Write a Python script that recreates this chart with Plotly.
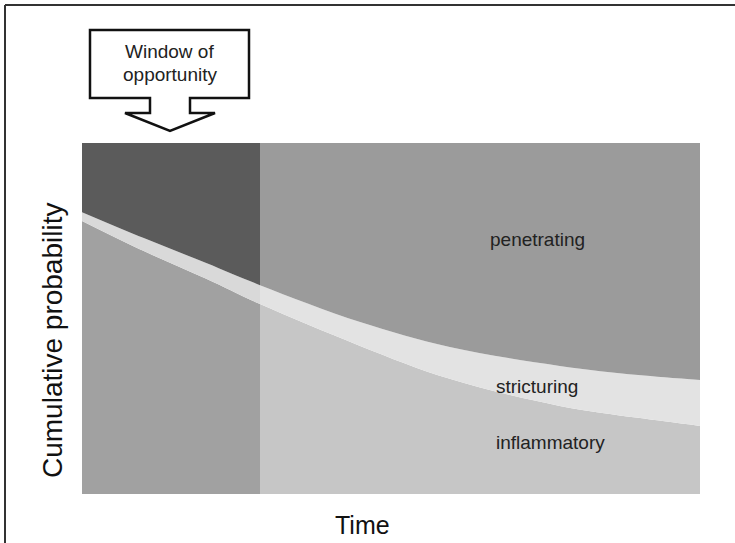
import plotly.graph_objects as go

# ---- data ----
time = [0.0, 0.100, 0.201, 0.288, 0.450, 0.595, 0.773, 0.900, 1.0]
upper_curve = [0.803, 0.729, 0.658, 0.595, 0.490, 0.419, 0.365, 0.339, 0.325]
lower_curve = [0.778, 0.692, 0.613, 0.541, 0.422, 0.328, 0.251, 0.217, 0.194]
top_line = [1.0] * len(time)
window_end = 0.288
region_labels = ["penetrating", "stricturing", "inflammatory"]
region_label_pos = [(0.657, 0.724), (0.666, 0.306), (0.666, 0.148)]

# ---- styling ----
W, H = 735, 543
L, R, T, B = 82, 35, 143, 49
PW, PH = W - L - R, H - T - B
FONT = "Liberation Sans, Arial, sans-serif"


def px(xp):
    return (xp - L) / PW


def py(yp):
    return (H - B - yp) / PH


right_cols = ["#c6c6c6", "#e3e3e3", "#9b9b9b"]
left_cols = ["#a1a1a1", "#d9d9d9", "#5b5b5b"]

fig = go.Figure()


def add_bands(xaxis, cols):
    fig.add_trace(go.Scatter(x=time, y=lower_curve, mode="lines", line=dict(width=0, shape="spline"),
                             fill="tozeroy", fillcolor=cols[0], xaxis=xaxis, yaxis="y",
                             hoverinfo="skip", showlegend=False))
    fig.add_trace(go.Scatter(x=time, y=upper_curve, mode="lines", line=dict(width=0, shape="spline"),
                             fill="tonexty", fillcolor=cols[1], xaxis=xaxis, yaxis="y",
                             hoverinfo="skip", showlegend=False))
    fig.add_trace(go.Scatter(x=time, y=top_line, mode="lines", line=dict(width=0),
                             fill="tonexty", fillcolor=cols[2], xaxis=xaxis, yaxis="y",
                             hoverinfo="skip", showlegend=False))


add_bands("x", right_cols)
add_bands("x2", left_cols)

axis_common = dict(showgrid=False, zeroline=False, showticklabels=False, ticks="", showline=False)
fig.update_layout(
    width=W, height=H,
    margin=dict(l=L, r=R, t=T, b=B),
    paper_bgcolor="white", plot_bgcolor="white",
    xaxis=dict(range=[0, 1], domain=[0, 1], **axis_common),
    xaxis2=dict(range=[0, window_end], domain=[0, window_end], anchor="y", **axis_common),
    yaxis=dict(range=[0, 1], domain=[0, 1], **axis_common),
    showlegend=False,
)

annotations = []
for lab, (lx, ly) in zip(region_labels, region_label_pos):
    annotations.append(dict(x=lx, y=ly, xref="x", yref="y", text=lab, showarrow=False,
                            xanchor="left", yanchor="middle",
                            font=dict(family=FONT, size=19, color="#222222")))

annotations += [
    dict(x=px(362), y=py(525), xref="paper", yref="paper", text="Time", showarrow=False,
         xanchor="center", yanchor="middle", font=dict(family=FONT, size=25, color="#111111")),
    dict(x=px(52), y=py(341), xref="paper", yref="paper", text="Cumulative probability",
         textangle=-90, showarrow=False, xanchor="center", yanchor="middle",
         font=dict(family=FONT, size=28, color="#111111")),
    dict(x=px(169), y=py(52), xref="paper", yref="paper", text="Window of", showarrow=False,
         xanchor="center", yanchor="middle", font=dict(family=FONT, size=19, color="#222222")),
    dict(x=px(170), y=py(74), xref="paper", yref="paper", text="opportunity", showarrow=False,
         xanchor="center", yanchor="middle", font=dict(family=FONT, size=19, color="#222222")),
]
fig.update_layout(annotations=annotations)

# callout box with arrow (pixel outline converted to paper coords)
callout_px = [(90, 30), (249, 30), (249, 98), (190, 98), (190, 113), (215, 113), (170, 131),
              (125, 113), (150, 113), (150, 98), (90, 98)]
path = "M " + " L ".join(f"{px(a):.5f},{py(b):.5f}" for a, b in callout_px) + " Z"
shapes = [
    dict(type="path", xref="paper", yref="paper", path=path,
         fillcolor="white", line=dict(color="#111111", width=2.5), layer="below"),
    dict(type="line", xref="paper", yref="paper", x0=px(5), x1=px(735), y0=py(5), y1=py(5),
         line=dict(color="#333333", width=2)),
    dict(type="line", xref="paper", yref="paper", x0=px(5), x1=px(5), y0=py(5), y1=py(543),
         line=dict(color="#333333", width=2)),
]
fig.update_layout(shapes=shapes)

fig.write_html(
    "out.html",
    config={"displayModeBar": False},
    post_script="document.body.style.margin='0';document.body.style.overflow='hidden';",
)
